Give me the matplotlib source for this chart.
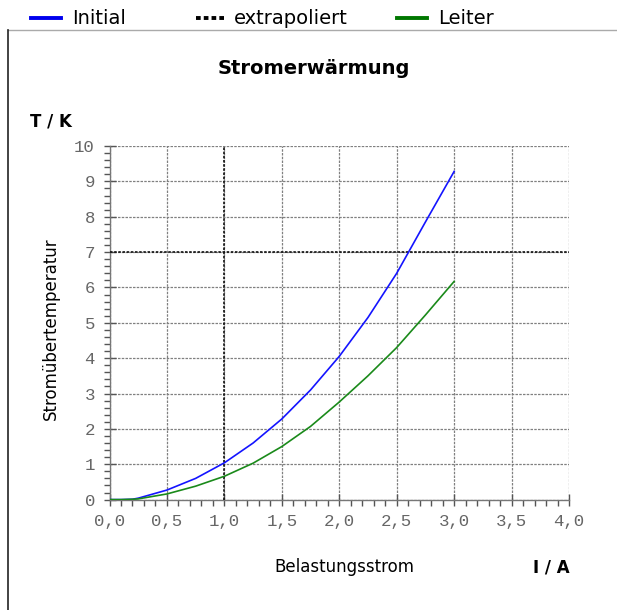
"""Stromerwärmung: Übertemperatur über Belastungsstrom."""

import matplotlib

matplotlib.use("Agg")
import matplotlib.pyplot as plt
from matplotlib.lines import Line2D
from matplotlib.ticker import MultipleLocator, FuncFormatter

strom_a = [0.0, 0.1, 0.2, 0.25, 0.5, 0.75, 1.0, 1.25, 1.5, 1.75, 2.0, 2.25, 2.5, 2.75, 3.0]
initial_k = [0.0, 0.0, 0.01, 0.04, 0.27, 0.6, 1.04, 1.6, 2.28, 3.1, 4.05, 5.15, 6.4, 7.85, 9.28]
leiter_k = [0.0, 0.0, 0.01, 0.02, 0.16, 0.38, 0.66, 1.03, 1.5, 2.07, 2.76, 3.5, 4.3, 5.22, 6.17]

# extrapolierte Markierung
extrap_strom = 1.0
extrap_temp = 7.0

x_ticks = [0.0, 0.5, 1.0, 1.5, 2.0, 2.5, 3.0, 3.5, 4.0]
y_ticks = list(range(0, 11))

BLUE = "#1414ff"
GREEN = "#1a8a1a"
SANS = "DejaVu Sans"
MONO = "Liberation Mono"

W, H = 617, 610

fig = plt.figure(figsize=(W / 100, H / 100), dpi=100)
ax = fig.add_axes([109.5 / W, 1 - 499.6 / H, 459.5 / W, 353.6 / H])

ax.plot(strom_a, initial_k, color=BLUE, lw=1.2, zorder=4)
ax.plot(strom_a, leiter_k, color=GREEN, lw=1.2, zorder=4)
ax.axvline(extrap_strom, color="#111111", lw=1.2, ls=(0, (1.5, 1)), zorder=3)
ax.axhline(extrap_temp, color="#111111", lw=1.2, ls=(0, (1.5, 1)), zorder=3)

ax.set_xlim(x_ticks[0], x_ticks[-1])
ax.set_ylim(y_ticks[0], y_ticks[-1])
ax.set_xticks(x_ticks)
ax.set_yticks(y_ticks)
ax.xaxis.set_minor_locator(MultipleLocator(0.1))
ax.yaxis.set_minor_locator(MultipleLocator(0.2))
ax.xaxis.set_major_formatter(FuncFormatter(lambda v, p: f"{v:.1f}".replace(".", ",")))
ax.grid(True, which="major", color="#808080", lw=0.9, ls=(0, (2, 1)))
ax.set_axisbelow(True)

for side in ("top", "right"):
    ax.spines[side].set_visible(False)
for side in ("left", "bottom"):
    ax.spines[side].set_color("#777777")
    ax.spines[side].set_linewidth(1.0)

ax.tick_params(which="major", direction="inout", length=9, width=1.0, color="#555555",
               labelcolor="#666666", labelsize=12.5, pad=6)
ax.tick_params(which="minor", direction="out", length=4, width=1.0, color="#555555")
for lab in ax.get_xticklabels() + ax.get_yticklabels():
    lab.set_fontfamily(MONO)

# Beschriftungen
fig.text(314 / W, 1 - 68 / H, "Stromerwärmung", family=SANS, weight="bold",
         fontsize=14, ha="center", va="center")
fig.text(30 / W, 1 - 122 / H, "T / K", family=SANS, weight="bold",
         fontsize=12, ha="left", va="center")
fig.text(51 / W, 1 - 329 / H, "Stromübertemperatur", family=SANS, fontsize=12,
         rotation=90, ha="center", va="center")
fig.text(344 / W, 1 - 567 / H, "Belastungsstrom", family=SANS, fontsize=12,
         ha="center", va="center")
fig.text(570 / W, 1 - 567 / H, "I / A", family=SANS, weight="bold",
         fontsize=12, ha="right", va="center")

# Rahmen
fig.add_artist(Line2D([8 / W, 1], [1 - 30 / H] * 2, color="#aaaaaa", lw=1.0))
fig.add_artist(Line2D([8 / W] * 2, [0, 1 - 30 / H], color="#222222", lw=1.2))

# Legende oben
legend_items = [
    ("Initial", dict(color="#0000ee", lw=2.8, ls="-"), 31, 72),
    ("extrapoliert", dict(color="#000000", lw=2.8, ls=(0, (1.2, 0.8))), 196, 234),
    ("Leiter", dict(color="#007700", lw=2.8, ls="-"), 397, 438),
]
ly = 1 - 18 / H
for label, style, x0, xt in legend_items:
    fig.add_artist(Line2D([x0 / W, (x0 + 30) / W], [ly, ly], **style))
    fig.text(xt / W, ly, label, family=SANS, fontsize=14, ha="left", va="center")

fig.savefig("out.png", dpi=100)
